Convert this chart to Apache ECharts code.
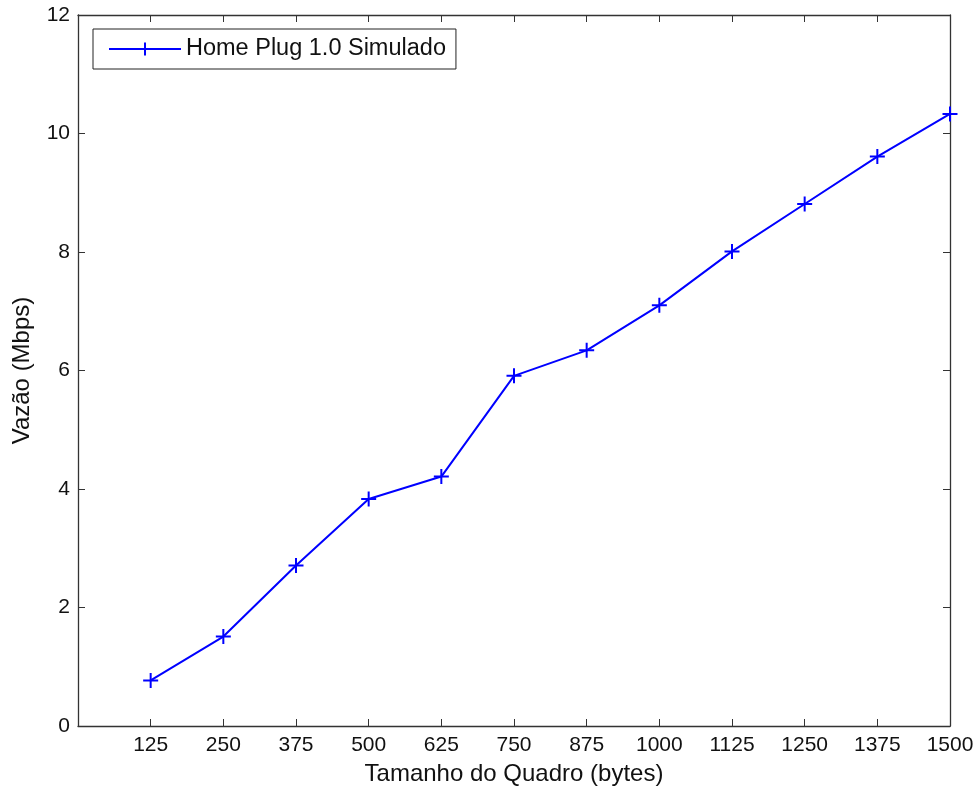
<!DOCTYPE html>
<html>
<head>
<meta charset="utf-8">
<script src="https://cdn.jsdelivr.net/npm/echarts@6/dist/echarts.min.js"></script>
<style>
  html, body { margin: 0; padding: 0; background: #fff; }
  #chart { width: 980px; height: 791px; }
</style>
</head>
<body>
<div id="chart"></div>
<script>
// Frame size in bytes and simulated throughput in Mbps
const frameSizes = [125, 250, 375, 500, 625, 750, 875, 1000, 1125, 1250, 1375, 1500];
const throughput = [0.77, 1.51, 2.71, 3.83, 4.21, 5.91, 6.34, 7.10, 8.01, 8.81, 9.61, 10.33];
const seriesName = 'Home Plug 1.0 Simulado';
const xTitle = 'Tamanho do Quadro (bytes)';
const yTitle = 'Vazão (Mbps)';

const FONT = "'Liberation Sans', Arial, sans-serif";
const plusPath = 'path://M0,5L10,5M5,0L5,10';

const chart = echarts.init(document.getElementById('chart'));

const frameAxis = {
  type: 'value', min: 0, max: 1500, interval: 125,
  axisLine: { onZero: false, lineStyle: { color: '#333', width: 1.3 } },
  axisTick: { inside: true, length: 7, lineStyle: { color: '#333' } },
  splitLine: { show: false }
};
const rateAxis = {
  type: 'value', min: 0, max: 12, interval: 2,
  axisLine: { show: true, onZero: false, lineStyle: { color: '#333', width: 1.3 } },
  axisTick: { show: true, inside: true, length: 7, lineStyle: { color: '#333' } },
  splitLine: { show: false }
};

chart.setOption({
  animation: false,
  backgroundColor: '#fff',
  grid: { left: 78, right: 30, top: 15, bottom: 62 },
  legend: {
    left: 93, top: 29,
    padding: [8, 10, 8, 15],
    borderColor: '#222', borderWidth: 1,
    itemWidth: 72, itemHeight: 16, itemGap: 8,
    textStyle: { fontFamily: FONT, fontSize: 23.5, color: '#111' },
    data: [seriesName]
  },
  xAxis: [
    Object.assign({}, frameAxis, {
      position: 'bottom',
      axisLabel: {
        fontFamily: FONT, fontSize: 21, color: '#111', margin: 9,
        formatter: v => (v === 0 ? '' : String(v))
      },
      name: xTitle, nameLocation: 'middle', nameGap: 36,
      nameTextStyle: { fontFamily: FONT, fontSize: 24, color: '#111' }
    }),
    Object.assign({}, frameAxis, { position: 'top', axisLabel: { show: false } })
  ],
  yAxis: [
    Object.assign({}, rateAxis, {
      position: 'left',
      axisLabel: { fontFamily: FONT, fontSize: 21, color: '#111', margin: 8 },
      name: yTitle, nameLocation: 'middle', nameGap: 44,
      nameTextStyle: { fontFamily: FONT, fontSize: 24, color: '#111' }
    }),
    Object.assign({}, rateAxis, { position: 'right', axisLabel: { show: false } })
  ],
  series: [{
    name: seriesName,
    type: 'line',
    xAxisIndex: 0, yAxisIndex: 0,
    data: frameSizes.map((x, i) => [x, throughput[i]]),
    symbol: plusPath,
    symbolSize: 15,
    showAllSymbol: true,
    lineStyle: { color: '#0000ff', width: 2 },
    itemStyle: { color: '#0000ff', borderColor: '#0000ff', borderWidth: 2 },
    clip: false
  }]
});
</script>
</body>
</html>
